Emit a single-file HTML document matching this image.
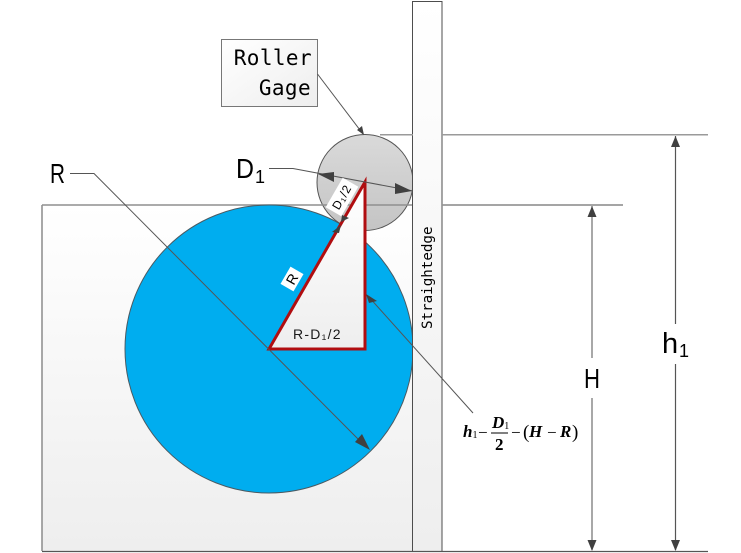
<!DOCTYPE html>
<html><head><meta charset="utf-8"><style>
html,body{margin:0;padding:0;background:#fff}
svg{display:block}
</style></head><body>
<svg width="741" height="553" viewBox="0 0 741 553" xmlns="http://www.w3.org/2000/svg">
<defs>
<linearGradient id="g1" x1="0" y1="0" x2="0" y2="1"><stop offset="0" stop-color="#ffffff"/><stop offset="1" stop-color="#eeeeee"/></linearGradient>
<linearGradient id="g2" x1="0" y1="0" x2="0" y2="1"><stop offset="0" stop-color="#dadada"/><stop offset="1" stop-color="#c4c4c4"/></linearGradient>
<linearGradient id="g3" x1="0" y1="0" x2="1" y2="1"><stop offset="0" stop-color="#ffffff"/><stop offset="1" stop-color="#eeeeee"/></linearGradient>
</defs>
<rect width="741" height="553" fill="#fff"/>
<!-- base block -->
<rect x="42" y="205" width="372" height="346" fill="url(#g1)"/>
<path d="M42 551V205" stroke="#8c8c8c" stroke-width="1.5" fill="none"/>
<!-- roller -->
<circle cx="365" cy="182.500" r="48" fill="url(#g2)" stroke="#555" stroke-width="1"/>
<!-- reference lines -->
<path d="M42 205H623" stroke="#8f8f8f" stroke-width="1.500" fill="none"/>
<!-- big circle -->
<circle cx="269" cy="349" r="144" fill="#00adef" stroke="#4a5a62" stroke-width="1"/>
<!-- straightedge -->
<rect x="412.500" y="1.500" width="29.500" height="550" fill="url(#g1)" stroke="#4d4d4d" stroke-width="1"/>
<path d="M380 134.800H413M442 134.800H708M442 205H623" stroke="#9a9a9a" stroke-width="1.500" fill="none"/>
<path d="M42 551.500H708" stroke="#555" stroke-width="1.200" fill="none"/>
<!-- triangle -->
<path d="M269 349L365 182V349Z" fill="url(#g1)" stroke="#b00d10" stroke-width="3" stroke-linejoin="miter"/>
<!-- R leader -->
<path d="M70 173.500H94L362 443" stroke="#555" stroke-width="1" fill="none"/>
<path d="M370 450L355 442L362 434Z" fill="#404040"/>
<!-- D1 leader -->
<path d="M269 168.500H293L413 191" stroke="#555" stroke-width="1" fill="none"/>
<path d="M318 174L334 172L334 182Z" fill="#404040"/>
<path d="M412 191L395 183L395 194Z" fill="#404040"/>
<!-- Roller Gage box -->
<rect x="221.500" y="39.500" width="96" height="67" fill="url(#g3)" stroke="#777" stroke-width="1"/>
<path d="M317.500 74L363 134" stroke="#555" stroke-width="1" fill="none"/>
<path d="M364 135L357 130L362 126Z" fill="#404040"/>
<text x="312" y="65" text-anchor="end" font-family="'DejaVu Sans Mono','Liberation Mono',monospace" font-size="21" letter-spacing="0.400" fill="#000">Roller</text>
<text x="311" y="95" text-anchor="end" font-family="'DejaVu Sans Mono','Liberation Mono',monospace" font-size="21" letter-spacing="0.400" fill="#000">Gage</text>
<!-- D1/2 label -->
<g transform="translate(342 197) rotate(-60)">
<rect x="-17" y="-9" width="34" height="18" fill="#fff"/>
<text x="0" y="4" text-anchor="middle" font-family="'Liberation Sans',sans-serif" font-size="12" letter-spacing="1" fill="#000">D₁/2</text>
</g>
<!-- radius arrows on hypotenuse -->
<path d="M341 222L342 215L349 218Z" fill="#404040"/>
<path d="M341 225L332 232L339 233Z" fill="#404040"/>
<!-- R label -->
<g transform="translate(292 279) rotate(-60)">
<rect x="-10" y="-7.500" width="20" height="15" fill="#fff"/>
<text x="0" y="5" text-anchor="middle" font-family="'Liberation Sans',sans-serif" font-size="14" fill="#000">R</text>
</g>
<text x="293" y="339" font-family="'Liberation Sans',sans-serif" font-size="14" letter-spacing="0.500" fill="#1a1a1a" textLength="48" lengthAdjust="spacing">R-D₁/2</text>
<!-- straightedge label -->
<text transform="translate(432 329) rotate(-90)" font-family="'DejaVu Sans Mono','Liberation Mono',monospace" font-size="14.200" fill="#000">Straightedge</text>
<!-- expression leader -->
<path d="M368 296L473 413" stroke="#555" stroke-width="1" fill="none"/>
<path d="M366 294L377 301L369 303Z" fill="#404040"/>
<!-- dimension H -->
<path d="M592 206V358M592 398V550" stroke="#6e6e6e" stroke-width="1.200" fill="none"/>
<path d="M592 206L596.500 217H587.500Z" fill="#404040"/>
<path d="M592 551L596.500 540H587.500Z" fill="#404040"/>
<text x="584" y="388" font-family="'Liberation Sans',sans-serif" font-size="27.500" fill="#000" textLength="16" lengthAdjust="spacingAndGlyphs">H</text>
<!-- dimension h1 -->
<path d="M675.500 136V324M675.500 364V550" stroke="#555" stroke-width="1.200" fill="none"/>
<path d="M675.500 136L680 147H671Z" fill="#404040"/>
<path d="M675.500 551L680 540H671Z" fill="#404040"/>
<text x="662" y="353" font-family="'Liberation Sans',sans-serif" font-size="29" fill="#000">h</text>
<text x="679" y="357" font-family="'Liberation Sans',sans-serif" font-size="18" fill="#000">1</text>
<!-- big labels -->
<text x="50" y="183" font-family="'Liberation Sans',sans-serif" font-size="27.500" fill="#000" textLength="15" lengthAdjust="spacingAndGlyphs">R</text>
<text x="236" y="178" font-family="'Liberation Sans',sans-serif" font-size="27.500" fill="#000" textLength="18" lengthAdjust="spacingAndGlyphs">D</text>
<text x="255" y="183" font-family="'Liberation Sans',sans-serif" font-size="18" fill="#000">1</text>
<!-- formula -->
<g font-family="'Liberation Serif',serif" fill="#000" font-size="17">
<text x="463" y="437" font-weight="bold" font-style="italic">h<tspan font-size="10" font-weight="normal" font-style="normal" dy="1">1</tspan></text>
<text x="478" y="438">−</text>
<text x="492" y="428" font-weight="bold" font-style="italic">D<tspan font-size="10" font-weight="normal" font-style="normal" dy="1">1</tspan></text>
<rect x="491" y="432.500" width="17" height="1" fill="#000"/>
<text x="495" y="450" font-weight="bold">2</text>
<text x="511" y="438">−</text>
<text x="523" y="438" font-size="19">(</text>
<text x="529" y="437" font-weight="bold" font-style="italic">H</text>
<text x="547" y="438">−</text>
<text x="560" y="437" font-weight="bold" font-style="italic">R</text>
<text x="572" y="438" font-size="19">)</text>
</g>
</svg>
</body></html>
